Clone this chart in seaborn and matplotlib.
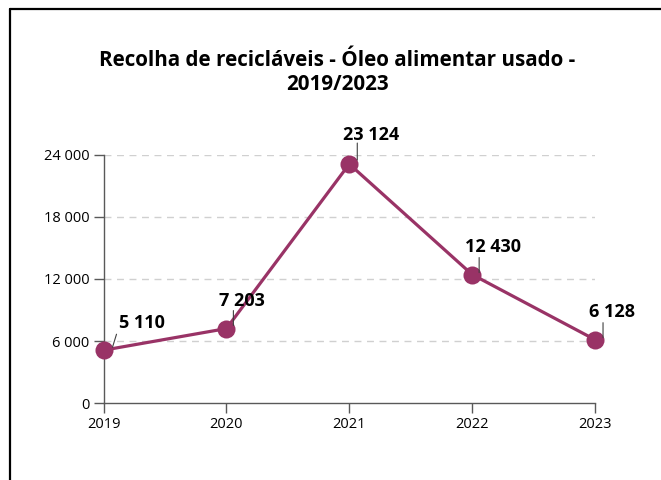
import matplotlib
matplotlib.use("Agg")
import matplotlib.pyplot as plt
import matplotlib.transforms as mtransforms
from matplotlib.lines import Line2D
from matplotlib.ticker import FuncFormatter
import seaborn as sns
import pandas as pd

years = [2019, 2020, 2021, 2022, 2023]
values = [5110, 7203, 23124, 12430, 6128]
y_ticks = [0, 6000, 12000, 18000, 24000]
title = "Recolha de recicláveis - Óleo alimentar usado -\n2019/2023"

line_color = "#993366"


def fmt_num(v, pos=None):
    return f"{int(v):,}".replace(",", " ")


sns.set_theme(style="white")
plt.rcParams['font.family'] = ['Open Sans', 'DejaVu Sans']
plt.rcParams['text.color'] = 'black'

df = pd.DataFrame({'ano': years, 'toneladas': values})

fig = plt.figure(figsize=(6.61, 4.8), dpi=100)
ax = fig.add_axes([0.1566, 0.1604, 0.7436, 0.5167])

sns.lineplot(data=df, x='ano', y='toneladas', ax=ax, color=line_color,
             linewidth=2.3, marker='o', markersize=13, markeredgewidth=0,
             clip_on=False, zorder=3)

ax.set_xlim(years[0], years[-1])
ax.set_ylim(y_ticks[0], y_ticks[-1])
ax.set_xticks(years)
ax.set_yticks(y_ticks)
ax.yaxis.set_major_formatter(FuncFormatter(fmt_num))
ax.set_xlabel('')
ax.set_ylabel('')

# dashed gridlines (skip the 0 line, the spine is there)
for t in y_ticks[1:]:
    ax.axhline(t, color='#d0d0d0', linewidth=1, linestyle=(0, (5, 4)), zorder=0)

for side in ['top', 'right']:
    ax.spines[side].set_visible(False)
for side in ['left', 'bottom']:
    ax.spines[side].set_color('#595959')
    ax.spines[side].set_linewidth(1)

ax.tick_params(axis='both', which='major', direction='out', length=7,
               width=1, color='#595959', labelsize=10.5, labelcolor='black', pad=3)
ax.tick_params(axis='y', left=True)
ax.tick_params(axis='x', bottom=True)

# data labels with leader lines (offsets in pixels)
label_offsets = [(38, 27), (16, 28), (22, 29), (21, 28), (17, 28)]
leader_lines = [((13, 16), (9, 3)), ((7, 18), (7, 3)), ((8, 21), (8, 4)),
                ((7, 17), (7, 2)), ((8, 17), (8, 2))]
for x, v, (dx, dy), (p0, p1) in zip(years, values, label_offsets, leader_lines):
    ax.annotate(fmt_num(v), xy=(x, v), xytext=(dx, dy), textcoords='offset pixels',
                ha='center', va='center', fontsize=13, fontweight='bold',
                color='black', annotation_clip=False, zorder=5)
    tr = mtransforms.offset_copy(ax.transData, fig=fig, x=p1[0], y=p1[1], units='dots')
    ax.annotate('', xy=(x, v), xycoords=tr,
                xytext=(p0[0] - p1[0], p0[1] - p1[1]), textcoords='offset pixels',
                arrowprops=dict(arrowstyle='-', color='#404040', lw=0.8,
                                shrinkA=0, shrinkB=0),
                annotation_clip=False, zorder=4)

fig.text(337 / 661, 1 - 72.5 / 480, title, ha='center', va='center',
         fontsize=14.9, fontweight='bold', linespacing=1.25, color='black')

# outer frame (left and top edges visible)
fig.add_artist(Line2D([10 / 661, 10 / 661], [0, 1 - 9 / 480], transform=fig.transFigure,
                      color='black', linewidth=1.6))
fig.add_artist(Line2D([10 / 661, 1], [1 - 9 / 480, 1 - 9 / 480], transform=fig.transFigure,
                      color='black', linewidth=1.6))

fig.savefig('out.png', dpi=100, facecolor='white')
